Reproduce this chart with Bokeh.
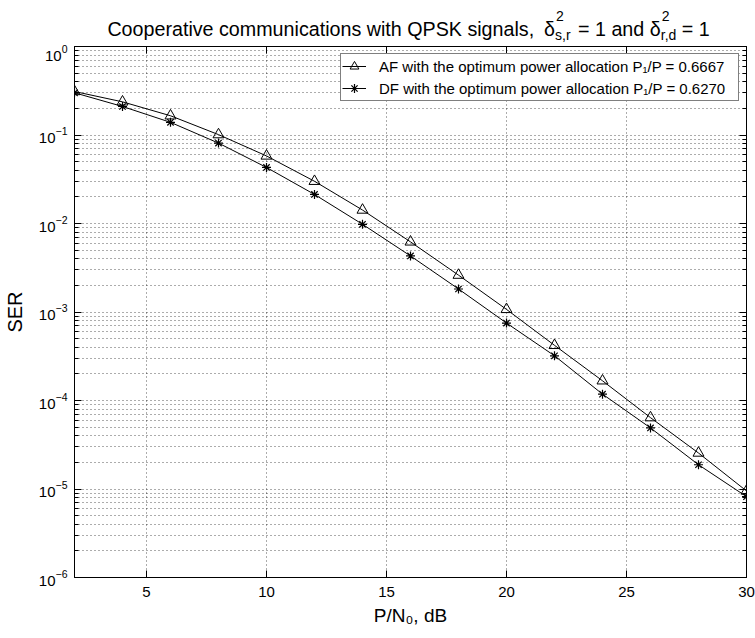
from bokeh.plotting import figure
from bokeh.layouts import column
from bokeh.models import (FixedTicker, LinearAxis, LogAxis, Label, Legend,
                          LegendItem, LogTickFormatter, Range1d, CustomJSTickFormatter)
from bokeh.embed import file_html
from bokeh.resources import INLINE

# ---- data ----
snr_db = [2, 4, 6, 8, 10, 12, 14, 16, 18, 20, 22, 24, 26, 28, 30]
ser_af = [0.31, 0.237, 0.165, 0.101, 0.058, 0.030, 0.0142, 0.0062, 0.00261,
          0.00107, 0.00042, 0.000167, 6.4e-5, 2.55e-5, 9.5e-6]
ser_df = [0.30, 0.21, 0.139, 0.081, 0.043, 0.0213, 0.0098, 0.0043, 0.00182,
          0.00075, 0.00032, 0.000118, 4.9e-5, 1.88e-5, 8.2e-6]
x_ticks = [5, 10, 15, 20, 25, 30]
y_decades = [1e-6, 1e-5, 1e-4, 1e-3, 1e-2, 1e-1, 1.0]
y_minor = [k * 10.0 ** e for e in range(-6, 0) for k in range(2, 10)]
legend_labels = ["AF with the optimum power allocation P\u2081/P = 0.6667",
                 "DF with the optimum power allocation P\u2081/P = 0.6270"]
x_label = "P/N\u2080, dB"
y_label = "SER"

FONT = "Liberation Sans"
W, H = 755, 638
TH = 44                       # height of the title strip
FL, FR, FT, FB = 72, 746, 46, 577  # frame edges in canvas pixels

# ---------- title strip (its frame is aligned with the main frame) ----------
t = figure(width=W, height=TH, x_range=Range1d(FL, FR), y_range=Range1d(TH, 0),
           output_backend="svg", toolbar_location=None,
           x_axis_location=None, y_axis_location=None,
           min_border_left=FL, min_border_right=W - FR,
           min_border_top=0, min_border_bottom=0)
t.title.visible = False
t.outline_line_color = None
t.grid.visible = False
title_pieces = [
    ("Cooperative communications with QPSK signals,", 105, 28, "19.7px"),
    ("\u03b4", 543, 28, "19.7px"),
    ("2", 555, 15, "14px"),
    ("s,r", 554, 34, "14px"),
    ("= 1 and", 577, 28, "19.7px"),
    ("\u03b4", 649, 28, "19.7px"),
    ("2", 661, 15, "14px"),
    ("r,d", 660, 34, "14px"),
    ("= 1", 681, 28, "19.7px"),
]
for txt, cx, cy, fs in title_pieces:
    t.add_layout(Label(x=cx, y=cy, text=txt, text_font=FONT, text_font_size=fs,
                       text_color="black", text_baseline="alphabetic",
                       text_align="left"))

# ---------- main plot ----------
p = figure(width=W, height=H - TH, x_range=Range1d(2, 30),
           y_range=Range1d(1e-6, 1), y_axis_type="log",
           output_backend="svg", toolbar_location=None,
           min_border_left=FL, min_border_right=W - FR,
           min_border_top=FT - TH, min_border_bottom=H - FB)
p.title.visible = False
p.outline_line_color = "black"
p.outline_line_width = 1
p.background_fill_color = "white"

# grids
for g in (p.xgrid, p.ygrid):
    g.grid_line_color = "black"
    g.grid_line_alpha = 0.65
    g.grid_line_dash = "1 3"
    g.grid_line_width = 1
p.ygrid.minor_grid_line_color = "black"
p.ygrid.minor_grid_line_alpha = 0.65
p.ygrid.minor_grid_line_dash = "1 3"

# bottom axis
xa = p.xaxis[0]
xa.ticker = FixedTicker(ticks=x_ticks, minor_ticks=[])
xa.major_tick_in = 7
xa.major_tick_out = 0
xa.minor_tick_in = 0
xa.minor_tick_out = 0
xa.axis_line_color = "black"
xa.major_tick_line_color = "black"
xa.major_label_text_font = FONT
xa.major_label_text_font_size = "15px"
xa.major_label_text_color = "black"
xa.major_label_standoff = 9
xa.axis_label = x_label
xa.axis_label_text_font = FONT
xa.axis_label_text_font_size = "19px"
xa.axis_label_text_font_style = "normal"
xa.axis_label_text_color = "black"
xa.axis_label_standoff = 5

# left axis
ya = p.yaxis[0]
ya.ticker = FixedTicker(ticks=y_decades, minor_ticks=y_minor)
ya.formatter = LogTickFormatter()
ya.major_tick_in = 7
ya.major_tick_out = 0
ya.minor_tick_in = 4
ya.minor_tick_out = 0
ya.axis_line_color = "black"
ya.major_tick_line_color = "black"
ya.minor_tick_line_color = "black"
ya.major_label_text_font = FONT
ya.major_label_text_font_size = "15px"
ya.major_label_text_color = "black"
ya.major_label_standoff = 7
ya.axis_label = y_label
ya.axis_label_text_font = FONT
ya.axis_label_text_font_size = "20px"
ya.axis_label_text_font_style = "normal"
ya.axis_label_text_color = "black"
ya.axis_label_standoff = 10

# top and right axes (ticks only)
top = LinearAxis(ticker=FixedTicker(ticks=x_ticks, minor_ticks=[]),
                 formatter=CustomJSTickFormatter(code="return ''"),
                 major_tick_in=7, major_tick_out=0, minor_tick_in=0, minor_tick_out=0,
                 major_label_standoff=0, axis_line_color="black")
p.add_layout(top, "above")
right = LogAxis(ticker=FixedTicker(ticks=y_decades, minor_ticks=y_minor),
                formatter=CustomJSTickFormatter(code="return ''"),
                major_tick_in=7, major_tick_out=0, minor_tick_in=4, minor_tick_out=0,
                major_label_standoff=0, axis_line_color="black")
p.add_layout(right, "right")

# series
l_af = p.line(snr_db, ser_af, line_color="black", line_width=1)
m_af = p.scatter(snr_db, ser_af, marker="triangle", size=11,
                 fill_color=None, line_color="black", line_width=1)
l_df = p.line(snr_db, ser_df, line_color="black", line_width=1)
m_df = p.scatter(snr_db, ser_df, marker="asterisk", size=9,
                 line_color="black", line_width=1.2)

legend = Legend(items=[LegendItem(label=legend_labels[0], renderers=[l_af, m_af]),
                       LegendItem(label=legend_labels[1], renderers=[l_df, m_df])],
                location="top_right", margin=7, padding=1, spacing=0,
                border_line_color="black", border_line_width=1.5,
                background_fill_color="white", background_fill_alpha=1,
                label_text_font=FONT, label_text_font_size="15px",
                label_text_color="black", glyph_width=24, glyph_height=22,
                label_standoff=13, label_height=15, label_width=358)
p.add_layout(legend)

open("out.html", "w").write(file_html(column(t, p, spacing=0), INLINE))
